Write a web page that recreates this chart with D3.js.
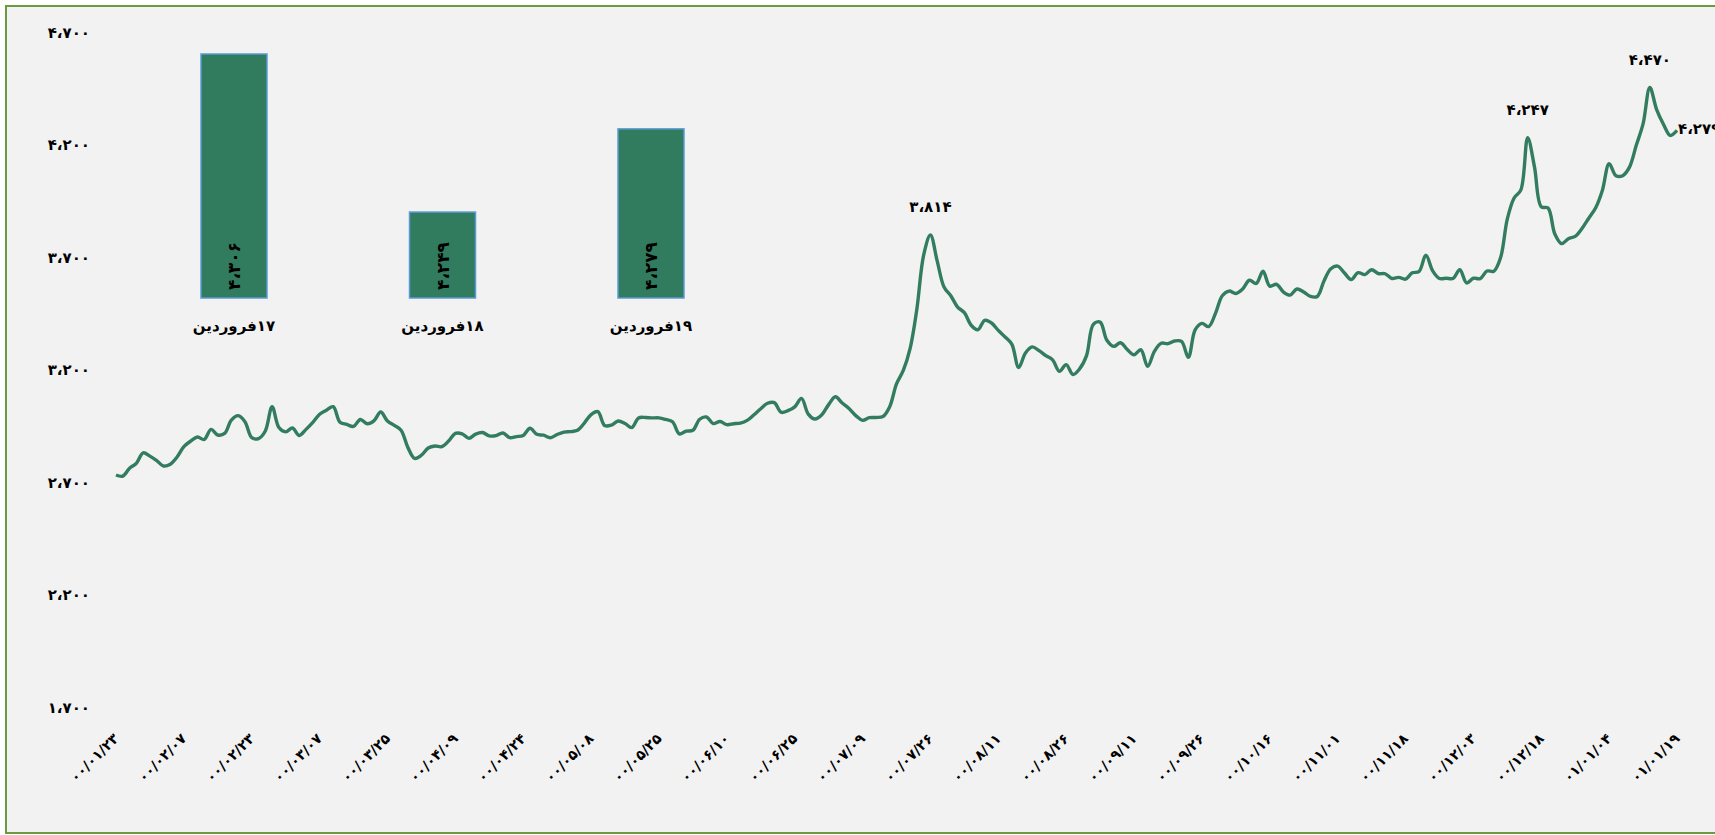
<!DOCTYPE html>
<html>
<head>
<meta charset="utf-8">
<script src="https://cdn.jsdelivr.net/npm/d3@7/dist/d3.min.js"></script>
<style>
  body { margin: 0; background: #ffffff; }
  text { font-family: "DejaVu Sans", sans-serif; font-weight: bold; fill: #000; }
</style>
</head>
<body>
<div id="chart"></div>
<script>
var svgWidth = 1715;
var svgHeight = 835;

// tick labels of the date axis (one every 10 trading days)
var dateLabels = ["۰۰/۰۱/۲۳", "۰۰/۰۲/۰۷", "۰۰/۰۲/۲۳", "۰۰/۰۳/۰۷", "۰۰/۰۳/۲۵", "۰۰/۰۴/۰۹",
  "۰۰/۰۴/۲۴", "۰۰/۰۵/۰۸", "۰۰/۰۵/۲۵", "۰۰/۰۶/۱۰", "۰۰/۰۶/۲۵", "۰۰/۰۷/۰۹",
  "۰۰/۰۷/۲۶", "۰۰/۰۸/۱۱", "۰۰/۰۸/۲۶", "۰۰/۰۹/۱۱", "۰۰/۰۹/۲۶", "۰۰/۱۰/۱۶",
  "۰۰/۱۱/۰۱", "۰۰/۱۱/۱۸", "۰۰/۱۲/۰۳", "۰۰/۱۲/۱۸", "۰۱/۰۱/۰۴", "۰۱/۰۱/۱۹"];
var labelEvery = 10;

// daily series
var prices = [
  2747, 2742, 2777, 2799, 2846, 2831, 2811, 2787, 2795, 2827,
  2873, 2898, 2916, 2905, 2950, 2925, 2932, 2991, 3011, 2984,
  2913, 2909, 2943, 3051, 2958, 2939, 2956, 2923, 2950, 2981,
  3017, 3035, 3051, 2982, 2972, 2963, 2994, 2975, 2988, 3027,
  2987, 2968, 2946, 2870, 2821, 2835, 2867, 2876, 2873, 2898,
  2932, 2930, 2910, 2929, 2936, 2921, 2922, 2934, 2913, 2918,
  2923, 2955, 2928, 2924, 2913, 2927, 2938, 2940, 2946, 2978,
  3016, 3029, 2967, 2969, 2987, 2976, 2958, 3001, 3003, 3001,
  3001, 2994, 2984, 2930, 2942, 2946, 2995, 3005, 2976, 2985,
  2971, 2975, 2978, 2990, 3015, 3042, 3066, 3069, 3026, 3033,
  3050, 3088, 3018, 2996, 3015, 3060, 3095, 3067, 3043, 3011,
  2990, 3002, 3003, 3007, 3051, 3152, 3212, 3309, 3485, 3725,
  3814, 3698, 3583, 3544, 3494, 3469, 3413, 3393, 3435, 3423,
  3390, 3361, 3328, 3225, 3290, 3317, 3300, 3278, 3259, 3208,
  3238, 3194, 3220, 3278, 3417, 3427, 3346, 3319, 3335, 3305,
  3282, 3304, 3230, 3297, 3333, 3331, 3343, 3341, 3270, 3392,
  3421, 3407, 3466, 3544, 3565, 3554, 3574, 3613, 3599, 3653,
  3587, 3595, 3561, 3547, 3574, 3561, 3541, 3541, 3611, 3664,
  3676, 3645, 3616, 3647, 3638, 3660, 3643, 3642, 3621, 3626,
  3618, 3646, 3652, 3725, 3655, 3621, 3622, 3621, 3660, 3601,
  3622, 3620, 3654, 3653, 3713, 3886, 3979, 4015, 4247, 4117,
  3940, 3934, 3819, 3776, 3798, 3808, 3843, 3889, 3934, 4012,
  4131, 4078, 4078, 4116, 4213, 4308, 4470, 4372, 4307, 4257,
  4279
];
var yTicks = [1700, 2200, 2700, 3200, 3700, 4200, 4700];
var labelledPoints = [120, 208, 226, 230];

// small inset: last three days
var barDays = ["۱۷فروردین", "۱۸فروردین", "۱۹فروردین"];
var barValues = [4306, 4249, 4279];

var faDigits = "۰۱۲۳۴۵۶۷۸۹";
function fa(n) {
  return d3.format(",")(n).replace(/\d/g, d => faDigits[+d]).replace(/,/g, "،");
}

var svg = d3.select("#chart")
  .append("svg")
  .attr("width", svgWidth)
  .attr("height", svgHeight);

svg.append("rect")
  .attr("x", 6).attr("y", 6)
  .attr("width", 1714).attr("height", 827)
  .attr("fill", "#f2f2f2")
  .attr("stroke", "#6a9b3f")
  .attr("stroke-width", 2);

var xScale = d3.scaleLinear()
  .domain([0, prices.length - 1])
  .range([116, 1677]);

var yScale = d3.scaleLinear()
  .domain([1700, 4700])
  .range([710.5, 35.8]);

// y axis, labels only
var leftAxis = d3.axisLeft(yScale)
  .tickValues(yTicks)
  .tickSize(0)
  .tickPadding(0)
  .tickFormat(fa);

var yAxisG = svg.append("g")
  .attr("transform", "translate(90,0)")
  .call(leftAxis);
yAxisG.select(".domain").remove();
yAxisG.selectAll("text")
  .attr("dy", "0.1em")
  .style("font-family", "DejaVu Sans")
  .style("font-size", "15px");

// x axis, rotated date labels
var bottomAxis = d3.axisBottom(xScale)
  .tickValues(dateLabels.map((d, i) => i * labelEvery))
  .tickSize(0)
  .tickFormat((d, i) => dateLabels[i]);

var xAxisG = svg.append("g")
  .attr("transform", "translate(0,710.5)")
  .call(bottomAxis);
xAxisG.select(".domain").remove();
xAxisG.selectAll("text")
  .attr("x", 0).attr("y", 0).attr("dy", 0)
  .attr("transform", "translate(3,29) rotate(-45)")
  .style("text-anchor", "end")
  .style("font-family", "DejaVu Sans")
  .style("font-size", "14px");

// the price line
var line = d3.line()
  .x((d, i) => xScale(i))
  .y(d => yScale(d))
  .curve(d3.curveCatmullRom.alpha(0.5));

svg.append("path")
  .datum(prices)
  .attr("fill", "none")
  .attr("stroke", "#327c5f")
  .attr("stroke-width", 3.4)
  .attr("stroke-linejoin", "round")
  .attr("d", line);

// data labels on the peaks and the last point
svg.selectAll(".peak")
  .data(labelledPoints)
  .enter().append("text")
  .attr("class", "peak")
  .attr("x", (d, i) => i === labelledPoints.length - 1 ? xScale(d) + 1 : xScale(d))
  .attr("y", (d, i) => i === labelledPoints.length - 1 ? yScale(prices[d]) + 4 : yScale(prices[d]) - 23)
  .attr("text-anchor", (d, i) => i === labelledPoints.length - 1 ? "start" : "middle")
  .style("font-size", "15px")
  .text(d => fa(prices[d]));

// inset bar chart
var xBar = d3.scalePoint()
  .domain(barDays)
  .range([234, 651]);

var yBar = d3.scaleLinear()
  .domain([4218, 4306])
  .range([298, 54]);

var barW = 66;

var bars = svg.append("g").selectAll("g")
  .data(barDays)
  .enter().append("g");

bars.append("rect")
  .attr("x", d => xBar(d) - barW / 2)
  .attr("y", (d, i) => yBar(barValues[i]))
  .attr("width", barW)
  .attr("height", (d, i) => yBar(4218) - yBar(barValues[i]))
  .attr("fill", "#317b5e")
  .attr("stroke", "#5b9bd5")
  .attr("stroke-width", 1.5);

bars.append("text")
  .attr("transform", d => `translate(${xBar(d)}, 290) rotate(-90)`)
  .attr("dy", "0.38em")
  .attr("text-anchor", "start")
  .style("font-size", "17px")
  .text((d, i) => fa(barValues[i]));

bars.append("text")
  .attr("x", d => xBar(d))
  .attr("y", 331)
  .attr("text-anchor", "middle")
  .attr("direction", "rtl")
  .style("font-size", "15px")
  .text(d => d);
</script>
</body>
</html>
